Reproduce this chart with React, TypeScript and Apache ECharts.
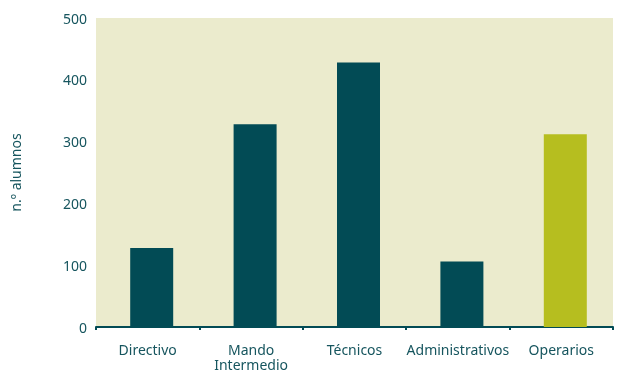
import React, { useEffect, useRef } from "react";
import * as echarts from "echarts";

const categories = ["Directivo", "Mando\nIntermedio", "Técnicos", "Administrativos", "Operarios"];
const values = [128, 328, 428, 106, 312];
const barColors = ["#024b55", "#024b55", "#024b55", "#024b55", "#b6be1f"];
const yTicks = { min: 0, max: 500, interval: 100 };

export default function App() {
  const ref = useRef<HTMLDivElement>(null);
  useEffect(() => {
    const chart = echarts.init(ref.current!, undefined, { renderer: "svg" });
    const textColor = "#16555e";
    const font = "Noto Sans";
    chart.setOption({
      animation: false,
      grid: {
        left: 95,
        top: 18,
        right: 5,
        bottom: 45,
        show: true,
        backgroundColor: "#ebebcd",
        borderWidth: 0,
      },
      xAxis: {
        type: "category",
        data: categories,
        axisLine: { show: true, lineStyle: { color: "#024b55", width: 2 } },
        axisTick: { show: true, length: 3, lineStyle: { color: "#024b55", width: 2 } },
        axisLabel: {
          color: textColor,
          fontFamily: font,
          fontSize: 14,
          lineHeight: 15,
          margin: 15,
          interval: 0,
        },
      },
      yAxis: {
        type: "value",
        min: yTicks.min,
        max: yTicks.max,
        interval: yTicks.interval,
        name: "n.º alumnos",
        nameLocation: "middle",
        nameGap: 74,
        nameRotate: 90,
        nameTextStyle: { color: textColor, fontFamily: font, fontSize: 14 },
        axisLine: { show: false },
        axisTick: { show: false },
        splitLine: { show: false },
        axisLabel: { color: textColor, fontFamily: font, fontSize: 14, margin: 9 },
      },
      series: [
        {
          type: "bar",
          barWidth: 8,
          barGap: 0,
          silent: true,
          data: values.map(() => ({ value: 0, itemStyle: { color: "transparent" } })),
        },
        {
          type: "bar",
          barWidth: 43,
          barGap: 0,
          data: values.map((v, i) => ({ value: v, itemStyle: { color: barColors[i] } })),
        },
      ],
    });
    return () => chart.dispose();
  }, []);
  return <div ref={ref} style={{ position: "fixed", left: 0, top: 0, width: 618, height: 372 }} />;
}
